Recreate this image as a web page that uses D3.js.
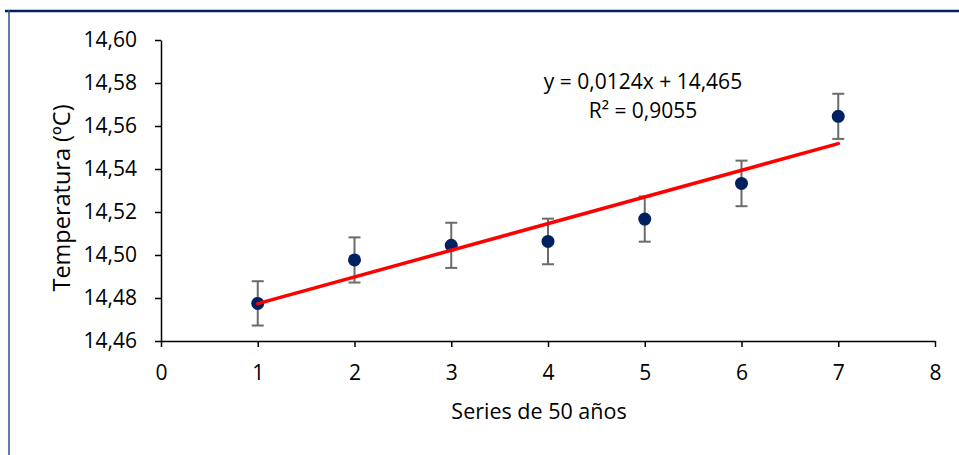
<!DOCTYPE html>
<html>
<head>
<meta charset="utf-8">
<script src="https://cdn.jsdelivr.net/npm/d3@7"></script>
<style>
  body { margin: 0; background: #fff; }
  svg text { font-family: "Open Sans", "Liberation Sans", sans-serif; fill: #000; }
</style>
</head>
<body>
<div id="chart"></div>
<script>
// Series (x) and mean temperature, with error bar half width
var series = [1, 2, 3, 4, 5, 6, 7];
var temps = [14.4775, 14.4977, 14.5045, 14.5063, 14.5167, 14.5333, 14.5645];
var errs = [0.0103, 0.0105, 0.0105, 0.0106, 0.0105, 0.0106, 0.0105];

// trend line y = a*x + b
var slope = 0.0124;
var intercept = 14.465;
var eqText = "y = 0,0124x + 14,465";
var r2Text = "R² = 0,9055";

var xTicks = [0, 1, 2, 3, 4, 5, 6, 7, 8];
var yTicks = [14.46, 14.48, 14.50, 14.52, 14.54, 14.56, 14.58, 14.60];

var w = 959, h = 455;

var svg = d3.select("#chart").append("svg")
    .attr("width", w)
    .attr("height", h);

// frame: top and left edges only
svg.append("line")
    .attr("x1", 5).attr("x2", w).attr("y1", 11).attr("y2", 11)
    .attr("stroke", "#002060").attr("stroke-width", 2.5);
svg.append("line")
    .attr("x1", 9).attr("x2", 9).attr("y1", 10).attr("y2", h)
    .attr("stroke", "#2f4f8f").attr("stroke-width", 1.5);

var xScale = d3.scaleLinear().domain([0, 8]).range([161, 935]);
var yScale = d3.scaleLinear().domain([14.46, 14.60]).range([341, 40]);

var fmt = function(d) { return d3.format(".2f")(d).replace(".", ","); };

var xAxis = d3.axisBottom(xScale)
    .tickValues(xTicks)
    .tickSize(6)
    .tickSizeOuter(0)
    .tickFormat(d3.format("d"));

var yAxis = d3.axisLeft(yScale)
    .tickValues(yTicks)
    .tickSize(6)
    .tickPadding(18)
    .tickSizeOuter(0)
    .tickFormat(fmt);

var gx = svg.append("g")
    .attr("transform", "translate(0," + yScale(14.46) + ")")
    .call(xAxis);
var gy = svg.append("g")
    .attr("transform", "translate(" + xScale(0) + ",0)")
    .call(yAxis);

[gx, gy].forEach(function(g) {
    g.selectAll("path, line").attr("stroke", "#000").attr("stroke-width", 1.5);
    g.selectAll("text").style("font-size", "21px");
});
gx.selectAll("text").attr("y", 39).attr("dy", 0);

// axis titles
svg.append("text")
    .attr("x", 539).attr("y", 419)
    .attr("text-anchor", "middle")
    .style("font-size", "21.5px")
    .text("Series de 50 años");

svg.append("text")
    .attr("transform", "translate(70,198) rotate(-90)")
    .attr("text-anchor", "middle")
    .style("font-size", "23.5px")
    .text("Temperatura (ºC)");

// error bars
var eb = svg.append("g");
var capW = 6;
series.forEach(function(s, i) {
    var cx = xScale(s);
    var y1 = yScale(temps[i] - errs[i]);
    var y2 = yScale(temps[i] + errs[i]);
    eb.append("line").attr("x1", cx).attr("x2", cx).attr("y1", y1).attr("y2", y2);
    eb.append("line").attr("x1", cx - capW).attr("x2", cx + capW).attr("y1", y1).attr("y2", y1);
    eb.append("line").attr("x1", cx - capW).attr("x2", cx + capW).attr("y1", y2).attr("y2", y2);
});
eb.selectAll("line").attr("stroke", "#6b6b6b").attr("stroke-width", 2);

// points
svg.append("g").selectAll("circle")
    .data(series)
    .enter()
    .append("circle")
    .attr("cx", function(d) { return xScale(d); })
    .attr("cy", function(d, i) { return yScale(temps[i]); })
    .attr("r", 6.5)
    .attr("fill", "#002060");

// linear trend line
var x0 = d3.min(series), x1 = d3.max(series);
svg.append("line")
    .attr("x1", xScale(x0)).attr("y1", yScale(slope * x0 + intercept))
    .attr("x2", xScale(x1)).attr("y2", yScale(slope * x1 + intercept))
    .attr("stroke", "#ff0000")
    .attr("stroke-width", 3.5)
    .attr("stroke-linecap", "round");

// equation label
svg.append("text")
    .attr("x", 643).attr("y", 89)
    .attr("text-anchor", "middle")
    .style("font-size", "21px")
    .text(eqText);
svg.append("text")
    .attr("x", 643).attr("y", 118)
    .attr("text-anchor", "middle")
    .style("font-size", "21px")
    .text(r2Text);
</script>
</body>
</html>
